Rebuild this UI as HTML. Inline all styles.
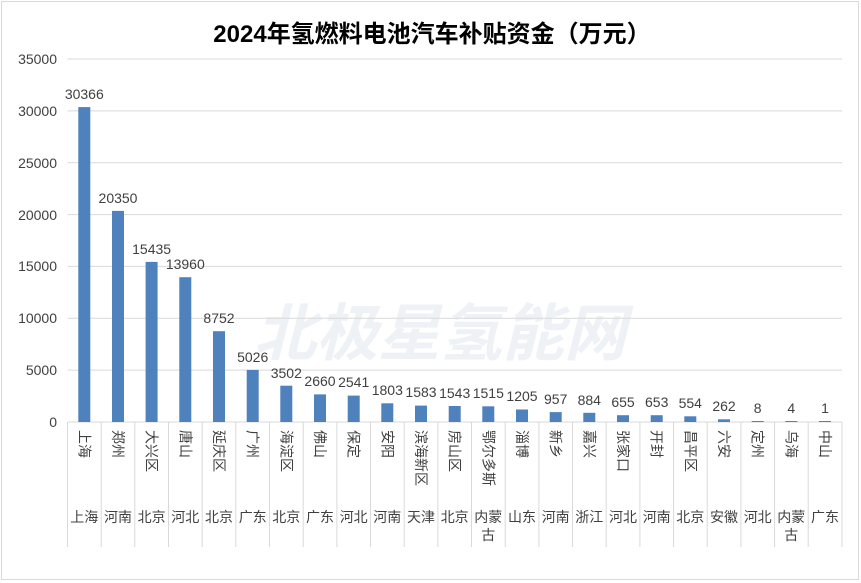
<!DOCTYPE html>
<html><head><meta charset="utf-8"><style>
body{margin:0;background:#fff;}
svg{display:block;font-family:"Liberation Sans","Noto Sans CJK SC",sans-serif;}
</style></head><body>
<svg width="861" height="583" xmlns="http://www.w3.org/2000/svg">
<rect x="1.5" y="1.5" width="857" height="578" fill="#fff" stroke="#d9d9d9"/>
<text x="432" y="42" font-size="24" font-weight="bold" text-anchor="middle" fill="#000">2024年氢燃料电池汽车补贴资金（万元）</text>
<text x="440" y="355" font-size="62" font-weight="bold" text-anchor="middle" fill="#eef1f6" font-style="italic">北极星氢能网</text>
<g stroke="#d9d9d9" stroke-width="1">
<line x1="67.5" x2="842" y1="59" y2="59"/><line x1="67.5" x2="842" y1="110.9" y2="110.9"/><line x1="67.5" x2="842" y1="162.7" y2="162.7"/><line x1="67.5" x2="842" y1="214.6" y2="214.6"/><line x1="67.5" x2="842" y1="266.4" y2="266.4"/><line x1="67.5" x2="842" y1="318.3" y2="318.3"/><line x1="67.5" x2="842" y1="370.1" y2="370.1"/><line x1="67.5" x2="842" y1="422" y2="422"/>
<line x1="67.5" x2="67.5" y1="422" y2="547"/><line x1="101.2" x2="101.2" y1="422" y2="547"/><line x1="134.8" x2="134.8" y1="422" y2="547"/><line x1="168.5" x2="168.5" y1="422" y2="547"/><line x1="202.2" x2="202.2" y1="422" y2="547"/><line x1="235.8" x2="235.8" y1="422" y2="547"/><line x1="269.5" x2="269.5" y1="422" y2="547"/><line x1="303.2" x2="303.2" y1="422" y2="547"/><line x1="336.9" x2="336.9" y1="422" y2="547"/><line x1="370.5" x2="370.5" y1="422" y2="547"/><line x1="404.2" x2="404.2" y1="422" y2="547"/><line x1="437.9" x2="437.9" y1="422" y2="547"/><line x1="471.5" x2="471.5" y1="422" y2="547"/><line x1="505.2" x2="505.2" y1="422" y2="547"/><line x1="538.9" x2="538.9" y1="422" y2="547"/><line x1="572.5" x2="572.5" y1="422" y2="547"/><line x1="606.2" x2="606.2" y1="422" y2="547"/><line x1="639.9" x2="639.9" y1="422" y2="547"/><line x1="673.6" x2="673.6" y1="422" y2="547"/><line x1="707.2" x2="707.2" y1="422" y2="547"/><line x1="740.9" x2="740.9" y1="422" y2="547"/><line x1="774.6" x2="774.6" y1="422" y2="547"/><line x1="808.2" x2="808.2" y1="422" y2="547"/><line x1="842" x2="842" y1="422" y2="547"/>
</g>
<g font-size="14" fill="#404040" text-anchor="end">
<text x="57" y="64">35000</text><text x="57" y="116">30000</text><text x="57" y="168">25000</text><text x="57" y="220">20000</text><text x="57" y="271">15000</text><text x="57" y="323">10000</text><text x="57" y="375">5000</text><text x="57" y="427">0</text>
</g>
<g fill="#4f81bd">
<rect x="78.3" y="107.1" width="12" height="314.9"/>
<rect x="112" y="210.9" width="12" height="211.1"/>
<rect x="145.6" y="261.9" width="12" height="160.1"/>
<rect x="179.3" y="277.2" width="12" height="144.8"/>
<rect x="213" y="331.2" width="12" height="90.8"/>
<rect x="246.7" y="369.9" width="12" height="52.1"/>
<rect x="280.3" y="385.7" width="12" height="36.3"/>
<rect x="314" y="394.4" width="12" height="27.6"/>
<rect x="347.7" y="395.6" width="12" height="26.4"/>
<rect x="381.3" y="403.3" width="12" height="18.7"/>
<rect x="415" y="405.6" width="12" height="16.4"/>
<rect x="448.7" y="406" width="12" height="16"/>
<rect x="482.3" y="406.3" width="12" height="15.7"/>
<rect x="516" y="409.5" width="12" height="12.5"/>
<rect x="549.7" y="412.1" width="12" height="9.9"/>
<rect x="583.3" y="412.8" width="12" height="9.2"/>
<rect x="617" y="415.2" width="12" height="6.8"/>
<rect x="650.7" y="415.2" width="12" height="6.8"/>
<rect x="684.3" y="416.3" width="12" height="5.7"/>
<rect x="718" y="419.3" width="12" height="2.7"/>
<rect x="751.7" y="421" width="12" height="1"/>
<rect x="785.3" y="421" width="12" height="1"/>
<rect x="819" y="421" width="12" height="1"/>
</g>
<g font-size="14" fill="#404040" text-anchor="middle">
<text x="84.3" y="99">30366</text><text x="118" y="203">20350</text><text x="151.6" y="254">15435</text><text x="185.3" y="269">13960</text><text x="219" y="323">8752</text><text x="252.7" y="362">5026</text><text x="286.3" y="378">3502</text><text x="320" y="386">2660</text><text x="353.7" y="387">2541</text><text x="387.3" y="395">1803</text><text x="421" y="397">1583</text><text x="454.7" y="398">1543</text><text x="488.3" y="398">1515</text><text x="522" y="401">1205</text><text x="555.7" y="404">957</text><text x="589.3" y="405">884</text><text x="623" y="407">655</text><text x="656.7" y="407">653</text><text x="690.3" y="408">554</text><text x="724" y="411">262</text><text x="757.7" y="413">8</text><text x="791.3" y="413">4</text><text x="825" y="413">1</text>
</g>
<g font-size="14" fill="#404040" dominant-baseline="central">
<text x="84.3" y="430" transform="rotate(90 84.3 430)">上海</text>
<text x="118" y="430" transform="rotate(90 118 430)">郑州</text>
<text x="151.6" y="430" transform="rotate(90 151.6 430)">大兴区</text>
<text x="185.3" y="430" transform="rotate(90 185.3 430)">唐山</text>
<text x="219" y="430" transform="rotate(90 219 430)">延庆区</text>
<text x="252.7" y="430" transform="rotate(90 252.7 430)">广州</text>
<text x="286.3" y="430" transform="rotate(90 286.3 430)">海淀区</text>
<text x="320" y="430" transform="rotate(90 320 430)">佛山</text>
<text x="353.7" y="430" transform="rotate(90 353.7 430)">保定</text>
<text x="387.3" y="430" transform="rotate(90 387.3 430)">安阳</text>
<text x="421" y="430" transform="rotate(90 421 430)">滨海新区</text>
<text x="454.7" y="430" transform="rotate(90 454.7 430)">房山区</text>
<text x="488.3" y="430" transform="rotate(90 488.3 430)">鄂尔多斯</text>
<text x="522" y="430" transform="rotate(90 522 430)">淄博</text>
<text x="555.7" y="430" transform="rotate(90 555.7 430)">新乡</text>
<text x="589.3" y="430" transform="rotate(90 589.3 430)">嘉兴</text>
<text x="623" y="430" transform="rotate(90 623 430)">张家口</text>
<text x="656.7" y="430" transform="rotate(90 656.7 430)">开封</text>
<text x="690.3" y="430" transform="rotate(90 690.3 430)">昌平区</text>
<text x="724" y="430" transform="rotate(90 724 430)">六安</text>
<text x="757.7" y="430" transform="rotate(90 757.7 430)">定州</text>
<text x="791.3" y="430" transform="rotate(90 791.3 430)">乌海</text>
<text x="825" y="430" transform="rotate(90 825 430)">中山</text>
</g>
<g font-size="14" fill="#404040" text-anchor="middle">
<text x="84.3" y="522">上海</text><text x="118" y="522">河南</text><text x="151.6" y="522">北京</text><text x="185.3" y="522">河北</text><text x="219" y="522">北京</text><text x="252.7" y="522">广东</text><text x="286.3" y="522">北京</text><text x="320" y="522">广东</text><text x="353.7" y="522">河北</text><text x="387.3" y="522">河南</text><text x="421" y="522">天津</text><text x="454.7" y="522">北京</text><text x="488.3" y="522">内蒙</text><text x="488.3" y="540">古</text><text x="522" y="522">山东</text><text x="555.7" y="522">河南</text><text x="589.3" y="522">浙江</text><text x="623" y="522">河北</text><text x="656.7" y="522">河南</text><text x="690.3" y="522">北京</text><text x="724" y="522">安徽</text><text x="757.7" y="522">河北</text><text x="791.3" y="522">内蒙</text><text x="791.3" y="540">古</text><text x="825" y="522">广东</text>
</g>
</svg>
</body></html>
